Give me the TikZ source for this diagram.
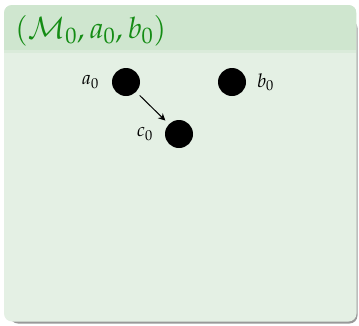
\documentclass[tikz,border=0pt]{standalone}
\usepackage{mathpazo}
\usetikzlibrary{arrows.meta}
\definecolor{titlebg}{RGB}{207,230,207}
\definecolor{bodybg}{RGB}{228,240,228}
\definecolor{titlefg}{RGB}{20,140,20}
\tikzset{
  dot/.style={circle,fill=black,minimum size=28pt,inner sep=0pt},
  lbl/.style={font=\fontsize{19}{22}\selectfont,inner sep=0pt},
  conn/.style={-{Stealth[length=7pt,width=7pt]},line width=1pt,shorten >=5pt,shorten <=5pt}
}
\begin{document}
\begin{tikzpicture}[x=1pt,y=-1pt]
\useasboundingbox (0,0) rectangle (359,325);
% shadow
\fill[black!40,rounded corners=8pt] (10,20) rectangle (357.5,323.5);
% body
\fill[bodybg,rounded corners=8pt] (4,5) rectangle (356.5,321.5);
% title
\begin{scope}
\clip[rounded corners=8pt] (4,5) rectangle (356.5,321.5);
\fill[titlebg] (4,5) rectangle (356.5,50);
\fill[titlebg!50!bodybg] (4,50) rectangle (356.5,53);
\end{scope}
\node[anchor=base west,inner sep=0pt,text=titlefg,font=\fontsize{29.5}{32}\selectfont] (title) at (15,38) {$(\mathcal{M}_0, a_0, b_0)$};
\node[dot] (a) at (126,82) {};
\node[dot] (b) at (232,82) {};
\node[dot] (c) at (179,134) {};
\node[lbl,anchor=east] (la) at (99,82) {$a_0$};
\node[lbl,anchor=west] (lb) at (257,82) {$b_0$};
\node[lbl,anchor=east] (lc) at (153,134) {$c_0$};
\draw[conn] (a) -- (c);
\end{tikzpicture}
\end{document}
